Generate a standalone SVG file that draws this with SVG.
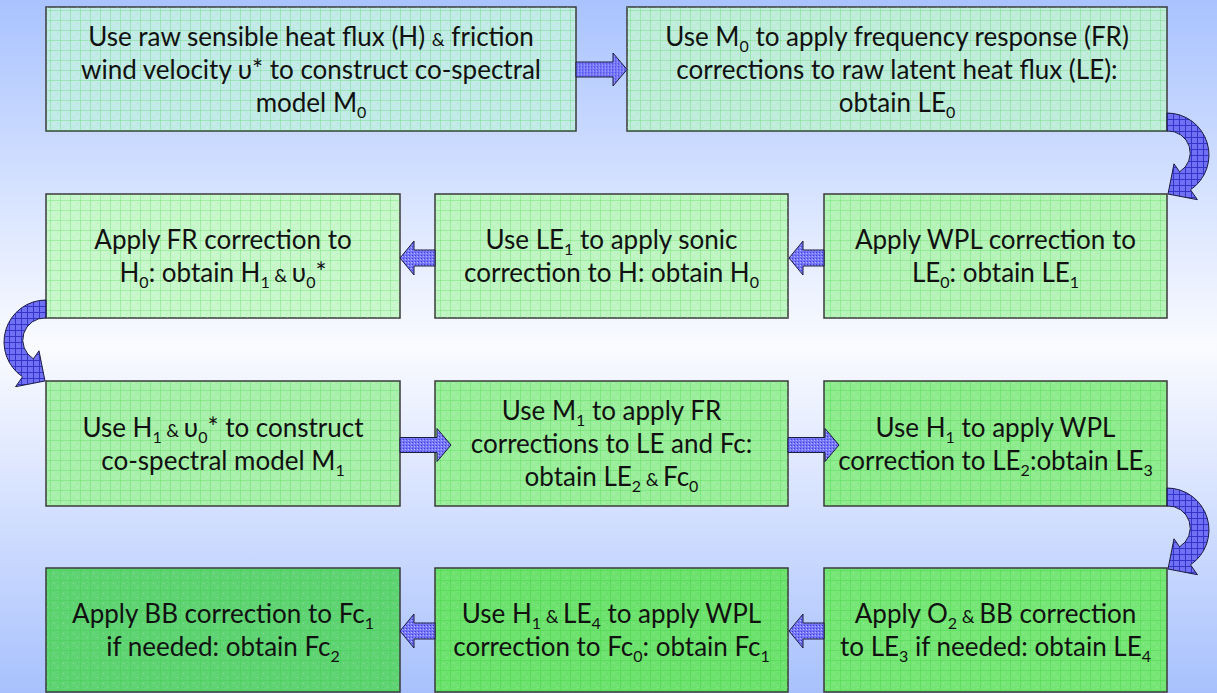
<svg xmlns="http://www.w3.org/2000/svg" width="1217" height="693" viewBox="0 0 1217 693">
<defs>
<linearGradient id="bg" x1="0" y1="0" x2="0" y2="1">
<stop offset="0" stop-color="#a9c3ff"/>
<stop offset="0.5" stop-color="#fafbff"/>
<stop offset="1" stop-color="#a8c1fd"/>
</linearGradient>
<pattern id="grid" patternUnits="userSpaceOnUse" width="10" height="10">
<rect width="10" height="10" fill="none"/>
<path d="M0 0.5H10M0.5 0V10" stroke="#22cc22" stroke-opacity="0.22" stroke-width="1"/>
<rect x="3" y="3" width="1" height="1" fill="#ffffff" fill-opacity="0.25"/>
<rect x="7" y="7" width="1" height="1" fill="#ffffff" fill-opacity="0.25"/>
<rect x="7" y="3" width="1" height="1" fill="#008800" fill-opacity="0.1"/>
<rect x="3" y="7" width="1" height="1" fill="#008800" fill-opacity="0.1"/>
</pattern>
<pattern id="dots" patternUnits="userSpaceOnUse" width="3" height="3">
<rect width="3" height="3" fill="#7676fa"/>
<rect width="1" height="1" fill="#4040dc"/>
<rect x="2" y="1" width="1" height="1" fill="#b4b4ff"/>
</pattern>
<pattern id="hatch" patternUnits="userSpaceOnUse" width="6" height="6">
<rect width="6" height="6" fill="#7070f4"/>
<path d="M0 0.5H6M0.5 0V6" stroke="#3434c8" stroke-width="1"/>
</pattern>
<path id="curve" d="M0,-18 A42,42 0 0 1 23.5,58.8 L30.4,68.7 L1,63 L7,32.8 L12.6,40.8 A22,22 0 0 0 0,0 Z"/>
<path id="rarrow" d="M0,-7.5 H37 V-16.5 L51,0 L37,16.5 V7.5 H0 Z"/>
<path id="larrow" d="M0,0 L14,-17 V-8 H35 V8 H14 V17 Z"/>
</defs>
<style>
.box{stroke:#3a3a3a;stroke-width:1.5}
.ov{fill:url(#grid)}
.t{font-family:Lato,"Open Sans","Liberation Sans",sans-serif;font-size:26px;fill:#111;text-anchor:middle}
.sub{font-size:16px}
.amp{font-size:18px}
.ha{fill:url(#dots);stroke:#1c1c40;stroke-width:1}
.ca{fill:url(#hatch);stroke:#1c1c40;stroke-width:1}
</style>
<rect width="1217" height="693" fill="url(#bg)"/>

<g id="node1">
<rect class="box" x="46" y="7" width="530" height="124" fill="#c2eae6"/>
<rect class="ov" x="46" y="7" width="530" height="124"/>
<text class="t" x="311" y="46">Use raw sensible heat flux (H) <tspan class="amp">&amp;</tspan> friction</text>
<text class="t" x="311" y="79">wind velocity υ* to construct co-spectral</text>
<text class="t" x="311" y="112">model M<tspan class="sub" dy="6">0</tspan></text>
</g>
<g id="node2">
<rect class="box" x="627" y="7" width="540" height="124" fill="#c0ecdc"/>
<rect class="ov" x="627" y="7" width="540" height="124"/>
<text class="t" x="897" y="46">Use M<tspan class="sub" dy="6">0</tspan><tspan dy="-6"> to apply frequency response (FR)</tspan></text>
<text class="t" x="897" y="79">corrections to raw latent heat flux (LE):</text>
<text class="t" x="897" y="112">obtain LE<tspan class="sub" dy="6">0</tspan></text>
</g>
<g id="node3">
<rect class="box" x="824" y="194" width="343" height="124" fill="#b6f3b8"/>
<rect class="ov" x="824" y="194" width="343" height="124"/>
<text class="t" x="995.5" y="249">Apply WPL correction to</text>
<text class="t" x="995.5" y="282">LE<tspan class="sub" dy="6">0</tspan><tspan dy="-6">: obtain LE</tspan><tspan class="sub" dy="6">1</tspan></text>
</g>
<g id="node4">
<rect class="box" x="435" y="194" width="353" height="124" fill="#bff5c2"/>
<rect class="ov" x="435" y="194" width="353" height="124"/>
<text class="t" x="611.5" y="249">Use LE<tspan class="sub" dy="6">1</tspan><tspan dy="-6"> to apply sonic</tspan></text>
<text class="t" x="611.5" y="282">correction to H: obtain H<tspan class="sub" dy="6">0</tspan></text>
</g>
<g id="node5">
<rect class="box" x="46" y="194" width="354" height="124" fill="#c8f7cc"/>
<rect class="ov" x="46" y="194" width="354" height="124"/>
<text class="t" x="223" y="249">Apply FR correction to</text>
<text class="t" x="223" y="282">H<tspan class="sub" dy="6">0</tspan><tspan dy="-6">: obtain H</tspan><tspan class="sub" dy="6">1</tspan><tspan class="amp" dy="-6"> &amp; </tspan>υ<tspan class="sub" dy="6">0</tspan><tspan dy="-6">*</tspan></text>
</g>
<g id="node6">
<rect class="box" x="46" y="381" width="354" height="125" fill="#a9f0ac"/>
<rect class="ov" x="46" y="381" width="354" height="125"/>
<text class="t" x="223" y="437">Use H<tspan class="sub" dy="6">1</tspan><tspan class="amp" dy="-6"> &amp; </tspan>υ<tspan class="sub" dy="6">0</tspan><tspan dy="-6">* to construct</tspan></text>
<text class="t" x="223" y="470">co-spectral model M<tspan class="sub" dy="6">1</tspan></text>
</g>
<g id="node7">
<rect class="box" x="435" y="381" width="353" height="125" fill="#9bee9c"/>
<rect class="ov" x="435" y="381" width="353" height="125"/>
<text class="t" x="611.5" y="420">Use M<tspan class="sub" dy="6">1</tspan><tspan dy="-6"> to apply FR</tspan></text>
<text class="t" x="611.5" y="453">corrections to LE and Fc:</text>
<text class="t" x="611.5" y="486">obtain LE<tspan class="sub" dy="6">2</tspan><tspan class="amp" dy="-6"> &amp; </tspan>Fc<tspan class="sub" dy="6">0</tspan></text>
</g>
<g id="node8">
<rect class="box" x="824" y="381" width="343" height="125" fill="#8eec8e"/>
<rect class="ov" x="824" y="381" width="343" height="125"/>
<text class="t" x="995.5" y="437">Use H<tspan class="sub" dy="6">1</tspan><tspan dy="-6"> to apply WPL</tspan></text>
<text class="t" x="995.5" y="470">correction to LE<tspan class="sub" dy="6">2</tspan><tspan dy="-6">:obtain LE</tspan><tspan class="sub" dy="6">3</tspan></text>
</g>
<g id="node9">
<rect class="box" x="824" y="568" width="343" height="124" fill="#76e676"/>
<rect class="ov" x="824" y="568" width="343" height="124"/>
<text class="t" x="995.5" y="623">Apply O<tspan class="sub" dy="6">2</tspan><tspan class="amp" dy="-6"> &amp; </tspan>BB correction</text>
<text class="t" x="995.5" y="656">to LE<tspan class="sub" dy="6">3</tspan><tspan dy="-6"> if needed: obtain LE</tspan><tspan class="sub" dy="6">4</tspan></text>
</g>
<g id="node10">
<rect class="box" x="435" y="568" width="353" height="124" fill="#6ee26e"/>
<rect class="ov" x="435" y="568" width="353" height="124"/>
<text class="t" x="611.5" y="623">Use H<tspan class="sub" dy="6">1</tspan><tspan class="amp" dy="-6"> &amp; </tspan>LE<tspan class="sub" dy="6">4</tspan><tspan dy="-6"> to apply WPL</tspan></text>
<text class="t" x="611.5" y="656">correction to Fc<tspan class="sub" dy="6">0</tspan><tspan dy="-6">: obtain Fc</tspan><tspan class="sub" dy="6">1</tspan></text>
</g>
<g id="node11">
<rect class="box" x="46" y="568" width="354" height="124" fill="#60d474"/>
<rect class="ov" x="46" y="568" width="354" height="124"/>
<text class="t" x="223" y="623">Apply BB correction to Fc<tspan class="sub" dy="6">1</tspan></text>
<text class="t" x="223" y="656">if needed: obtain Fc<tspan class="sub" dy="6">2</tspan></text>
</g>

<g id="connectors">
<use href="#rarrow" class="ha" transform="translate(576,69.5)"/>
<use href="#curve" class="ca" transform="translate(1167,131)"/>
<use href="#larrow" class="ha" transform="translate(789,258)"/>
<use href="#larrow" class="ha" transform="translate(400,258)"/>
<use href="#curve" class="ca" transform="translate(46,318) scale(-1,1)"/>
<use href="#rarrow" class="ha" transform="translate(400,445)"/>
<use href="#rarrow" class="ha" transform="translate(788,445)"/>
<use href="#curve" class="ca" transform="translate(1167,506)"/>
<use href="#larrow" class="ha" transform="translate(789,631)"/>
<use href="#larrow" class="ha" transform="translate(400,631)"/>
</g>
</svg>
